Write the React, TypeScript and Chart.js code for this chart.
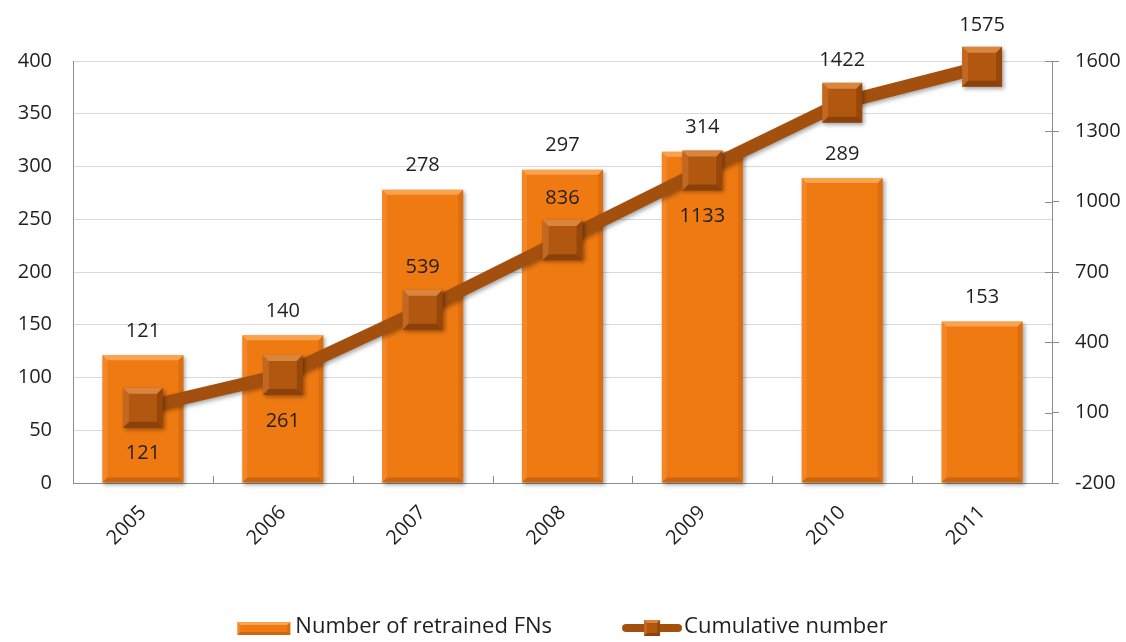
import React, { useEffect, useRef } from 'react';
import { Chart, registerables } from 'chart.js';

Chart.register(...registerables);

// ---- data ----
const years = ['2005', '2006', '2007', '2008', '2009', '2010', '2011'];
const retrainedFNs = [121, 140, 278, 297, 314, 289, 153];
const cumulativeNumber = [121, 261, 539, 836, 1133, 1422, 1575];
const seriesNames = ['Number of retrained FNs', 'Cumulative number'];
const leftAxisMin = 0;
const leftAxisMax = 400;
const leftAxisStep = 50;
const rightAxisMin = -200;
const rightAxisMax = 1600;
const rightAxisStep = 300;
// label placement of cumulative labels (style only)
const cumulativeLabelSide = ['below', 'below', 'above', 'above', 'below', 'above', 'above'];

// ---- style ----
const FONT = '"Open Sans", sans-serif';
const TEXT = '#1f1f1f';
const BAR = '#F07A12';
const LINE = '#A3500E';
const MARKER = '#B2570F';
const GRID = '#D9D9D9';
const AXIS = '#8C8C8C';

type Pt = [number, number];

function poly(ctx: CanvasRenderingContext2D, pts: Pt[], color: string) {
  ctx.beginPath();
  ctx.moveTo(pts[0][0], pts[0][1]);
  for (let i = 1; i < pts.length; i++) ctx.lineTo(pts[i][0], pts[i][1]);
  ctx.closePath();
  ctx.fillStyle = color;
  ctx.fill();
}

function bevel(
  ctx: CanvasRenderingContext2D,
  l: number, t: number, r: number, b: number, bv: number,
  c: { top: string; left: string; right: string; bottom: string }
) {
  poly(ctx, [[l, t], [r, t], [r - bv, t + bv], [l + bv, t + bv]], c.top);
  poly(ctx, [[l, t], [l + bv, t + bv], [l + bv, b - bv], [l, b]], c.left);
  poly(ctx, [[r, t], [r, b], [r - bv, b - bv], [r - bv, t + bv]], c.right);
  poly(ctx, [[l, b], [l + bv, b - bv], [r - bv, b - bv], [r, b]], c.bottom);
}

const barBevel = {
  top: 'rgba(255,190,120,0.6)',
  left: 'rgba(255,190,130,0.2)',
  right: 'rgba(120,50,0,0.16)',
  bottom: 'rgba(110,45,0,0.28)',
};
const markerBevel = {
  top: 'rgba(255,180,110,0.5)',
  left: 'rgba(255,170,100,0.22)',
  right: 'rgba(60,20,0,0.22)',
  bottom: 'rgba(60,20,0,0.32)',
};

const effectsPlugin = {
  id: 'effects',
  beforeDatasetDraw(chart: any) {
    const ctx = chart.ctx;
    ctx.save();
    ctx.shadowColor = 'rgba(0,0,0,0.35)';
    ctx.shadowBlur = 4;
    ctx.shadowOffsetX = 2;
    ctx.shadowOffsetY = 2;
  },
  afterDatasetDraw(chart: any, args: any) {
    const ctx = chart.ctx;
    ctx.restore();
    const meta = args.meta;
    if (meta.type === 'bar') {
      meta.data.forEach((el: any) => {
        const p = el.getProps(['x', 'y', 'base', 'width'], true);
        const l = p.x - p.width / 2;
        const r = p.x + p.width / 2;
        bevel(ctx, l, p.y, r, p.base, 5, barBevel);
      });
    } else if (meta.type === 'line') {
      meta.data.forEach((el: any) => {
        const p = el.getProps(['x', 'y'], true);
        const rad = el.options.radius * Math.SQRT1_2;
        bevel(ctx, p.x - rad, p.y - rad, p.x + rad, p.y + rad, 6, markerBevel);
      });
    }
  },
  afterDatasetsDraw(chart: any) {
    const ctx = chart.ctx;
    ctx.save();
    ctx.fillStyle = TEXT;
    ctx.font = `20px ${FONT}`;
    ctx.textAlign = 'center';
    ctx.textBaseline = 'middle';
    const barMeta = chart.getDatasetMeta(0);
    barMeta.data.forEach((el: any, i: number) => {
      const p = el.getProps(['x', 'y'], true);
      ctx.fillText(String(chart.data.datasets[0].data[i]), p.x, p.y - 24);
    });
    const lineMeta = chart.getDatasetMeta(1);
    lineMeta.data.forEach((el: any, i: number) => {
      const p = el.getProps(['x', 'y'], true);
      const dy = cumulativeLabelSide[i] === 'above' ? -42 : 46;
      ctx.fillText(String(chart.data.datasets[1].data[i]), p.x, p.y + dy);
    });
    ctx.restore();
  },
  afterDraw(chart: any) {
    const ctx = chart.ctx;
    const area = chart.chartArea;
    const xs = chart.scales.x;
    const y1 = chart.scales.y1;
    ctx.save();
    ctx.strokeStyle = AXIS;
    ctx.lineWidth = 1;
    // inner category tick marks
    for (let i = 1; i < xs.ticks.length; i++) {
      const x = Math.round((xs.getPixelForTick(i - 1) + xs.getPixelForTick(i)) / 2) + 0.5;
      ctx.beginPath();
      ctx.moveTo(x, area.bottom - 7);
      ctx.lineTo(x, area.bottom);
      ctx.stroke();
    }
    // inner part of right axis ticks
    y1.ticks.forEach((t: any) => {
      const y = Math.round(y1.getPixelForValue(t.value)) + 0.5;
      ctx.beginPath();
      ctx.moveTo(area.right - 7, y);
      ctx.lineTo(area.right, y);
      ctx.stroke();
    });
    // legend
    ctx.font = `22px ${FONT}`;
    ctx.textBaseline = 'middle';
    ctx.textAlign = 'left';
    const names = chart.data.datasets.map((d: any) => d.label);
    const icon1 = 53, icon2 = 60, gap1 = 5, gap2 = 2, gapItems = 70;
    const w1 = ctx.measureText(names[0]).width;
    const w2 = ctx.measureText(names[1]).width;
    const total = icon1 + gap1 + w1 + gapItems + icon2 + gap2 + w2;
    let x = (area.left + area.right) / 2 - total / 2;
    const cy = 628;
    // bar icon
    ctx.fillStyle = BAR;
    ctx.fillRect(x, cy - 6, icon1, 13);
    bevel(ctx, x, cy - 6, x + icon1, cy + 7, 3, barBevel);
    x += icon1 + gap1;
    ctx.fillStyle = TEXT;
    ctx.fillText(names[0], x, cy - 1);
    x += w1 + gapItems;
    // line icon
    ctx.strokeStyle = LINE;
    ctx.lineWidth = 8;
    ctx.lineCap = 'round';
    ctx.beginPath();
    ctx.moveTo(x + 4, cy);
    ctx.lineTo(x + icon2 - 4, cy);
    ctx.stroke();
    ctx.fillStyle = MARKER;
    const mx = x + icon2 / 2;
    ctx.fillRect(mx - 8, cy - 8, 16, 16);
    bevel(ctx, mx - 8, cy - 8, mx + 8, cy + 8, 3, markerBevel);
    x += icon2 + gap2;
    ctx.fillStyle = TEXT;
    ctx.fillText(names[1], x, cy - 1);
    ctx.restore();
  },
};

export default function App() {
  const ref = useRef<HTMLCanvasElement | null>(null);

  useEffect(() => {
    document.body.style.margin = '0';
    const canvas = ref.current;
    if (!canvas) return;
    const chart = new Chart(canvas, {
      type: 'bar',
      data: {
        labels: years,
        datasets: [
          {
            type: 'bar',
            label: seriesNames[0],
            data: retrainedFNs,
            yAxisID: 'y',
            backgroundColor: BAR,
            borderWidth: 0,
            categoryPercentage: 1,
            barPercentage: 0.58,
            order: 2,
            clip: false,
          } as any,
          {
            type: 'line',
            label: seriesNames[1],
            data: cumulativeNumber,
            yAxisID: 'y1',
            borderColor: LINE,
            borderWidth: 13,
            pointStyle: 'rect',
            pointRadius: 28.3,
            pointHoverRadius: 28.3,
            pointBackgroundColor: MARKER,
            pointBorderWidth: 0,
            tension: 0,
            order: 1,
            clip: false,
          } as any,
        ],
      },
      options: {
        animation: false,
        responsive: true,
        maintainAspectRatio: false,
        layout: { padding: { top: 61, left: 0, right: 0, bottom: 59 } },
        plugins: {
          legend: { display: false },
          tooltip: { enabled: false },
        },
        scales: {
          x: {
            offset: true,
            grid: { display: false },
            border: { display: true, color: AXIS, width: 1 },
            ticks: {
              minRotation: 45,
              maxRotation: 45,
              padding: 10,
              color: TEXT,
              font: { family: FONT, size: 20 },
            },
            afterFit(scale: any) {
              scale.height = 100;
            },
          },
          y: {
            position: 'left',
            min: leftAxisMin,
            max: leftAxisMax,
            ticks: {
              stepSize: leftAxisStep,
              padding: 21,
              color: TEXT,
              font: { family: FONT, size: 20 },
              callback: (v: any) => String(v),
            },
            grid: { color: GRID, drawTicks: false },
            border: { display: true, color: AXIS, width: 1 },
            afterFit(scale: any) {
              scale.width = 73;
            },
          },
          y1: {
            position: 'right',
            min: rightAxisMin,
            max: rightAxisMax,
            ticks: {
              stepSize: rightAxisStep,
              padding: 16,
              color: TEXT,
              font: { family: FONT, size: 20 },
              callback: (v: any) => String(v),
            },
            grid: { drawOnChartArea: false, drawTicks: true, tickLength: 7, color: AXIS },
            border: { display: true, color: AXIS, width: 1 },
            afterFit(scale: any) {
              scale.width = 74;
            },
          },
        },
      },
      plugins: [effectsPlugin],
    });
    return () => chart.destroy();
  }, []);

  return (
    <div style={{ width: '1126px', height: '642px', position: 'relative' }}>
      <canvas ref={ref} />
    </div>
  );
}
